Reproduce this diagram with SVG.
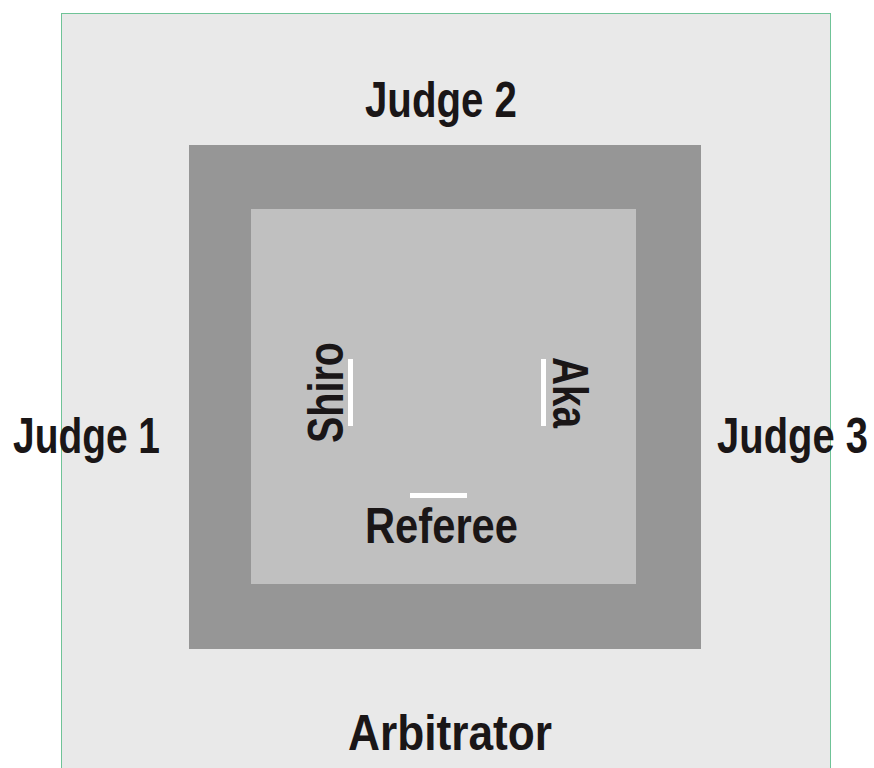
<svg xmlns="http://www.w3.org/2000/svg" width="874" height="768" viewBox="0 0 874 768">
<style>
.lbl{font-family:"Liberation Sans Narrow","Liberation Sans",Arial,sans-serif;font-weight:bold;font-size:50px;fill:#1a1617}
.mark{fill:#ffffff}
</style>
<rect x="0" y="0" width="874" height="768" fill="#ffffff"/>
<g id="arbitration-area">
<rect x="61.5" y="13.5" width="769" height="770" fill="#e9e9e9" stroke="#6fc397" stroke-width="1"/>
</g>
<g id="safety-area">
<rect x="189" y="145" width="512" height="504" fill="#969696"/>
</g>
<g id="competition-area">
<rect x="251" y="209" width="385" height="375" fill="#c0c0c0"/>
</g>
<g id="judge2"><text class="lbl" x="365" y="117" textLength="152" lengthAdjust="spacingAndGlyphs">Judge 2</text></g>
<g id="judge1"><text class="lbl" x="13" y="453" textLength="147" lengthAdjust="spacingAndGlyphs">Judge 1</text></g>
<g id="judge3"><text class="lbl" x="717" y="453" textLength="151" lengthAdjust="spacingAndGlyphs">Judge 3</text></g>
<g id="arbitrator"><text class="lbl" x="348" y="750" textLength="204" lengthAdjust="spacingAndGlyphs">Arbitrator</text></g>
<g id="referee">
<rect class="mark" x="410" y="493" width="57" height="5"/>
<text class="lbl" x="365" y="543" textLength="153" lengthAdjust="spacingAndGlyphs">Referee</text>
</g>
<g id="shiro">
<rect class="mark" x="348" y="359" width="5" height="67"/>
<text class="lbl" transform="translate(343,443) rotate(-90)" x="0" y="0" textLength="101" lengthAdjust="spacingAndGlyphs">Shiro</text>
</g>
<g id="aka">
<rect class="mark" x="541" y="359" width="5" height="67"/>
<text class="lbl" transform="translate(553,357) rotate(90)" x="0" y="0" textLength="71" lengthAdjust="spacingAndGlyphs">Aka</text>
</g>
<g id="connectors"></g>
</svg>
